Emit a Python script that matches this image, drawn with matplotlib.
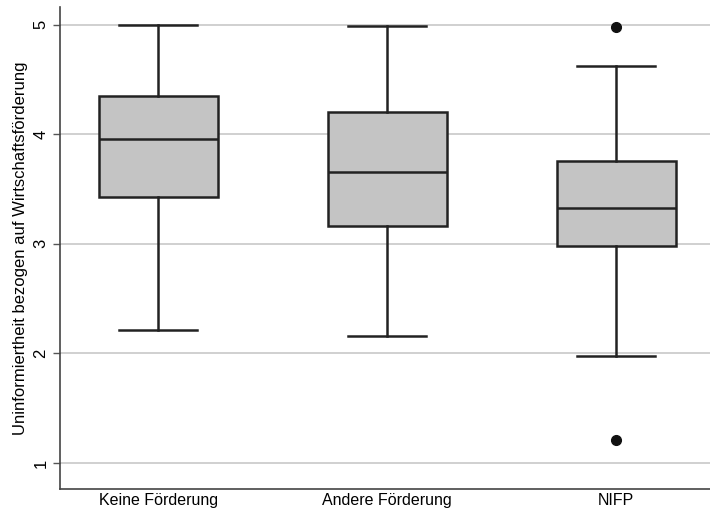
import matplotlib
matplotlib.use('Agg')
import matplotlib.pyplot as plt

plt.rcParams.update({'font.family': ['Liberation Sans', 'DejaVu Sans'], 'font.size': 11})

groups = ['Keine Förderung', 'Andere Förderung', 'NIFP']
whislo = [2.21, 2.16, 1.98]
q1 = [3.43, 3.16, 2.98]
med = [3.96, 3.66, 3.33]
q3 = [4.35, 4.20, 3.76]
whishi = [5.0, 4.99, 4.62]
fliers = [[], [], [4.98, 1.21]]

stats = []
for i, g in enumerate(groups):
    stats.append({'label': g, 'whislo': whislo[i], 'q1': q1[i], 'med': med[i],
                  'q3': q3[i], 'whishi': whishi[i], 'fliers': fliers[i]})

fig = plt.figure(figsize=(7.1, 5.12), dpi=100)
ax = fig.add_axes([0.085, 0.045, 0.915, 0.941])

ax.yaxis.grid(True, color='#c8c8c8', linewidth=1.2)
ax.set_axisbelow(True)

ax.bxp(stats, positions=[1, 2, 3], widths=0.52, patch_artist=True,
       boxprops=dict(facecolor='#c4c4c4', edgecolor='#222222', linewidth=1.8),
       medianprops=dict(color='#222222', linewidth=1.8),
       whiskerprops=dict(color='#222222', linewidth=1.8),
       capprops=dict(color='#222222', linewidth=1.8),
       capwidths=0.34,
       flierprops=dict(marker='o', markerfacecolor='#111111', markeredgecolor='#111111',
                       markersize=7))

ax.set_xlim(0.573, 3.41)
ax.set_ylim(0.763, 5.16)
ax.set_yticks([1, 2, 3, 4, 5])
ax.set_yticklabels(['1', '2', '3', '4', '5'], rotation=90, va='center', fontsize=12)
ax.tick_params(axis='x', length=0, labelsize=11.5, pad=3)
ax.tick_params(axis='y', length=5, width=1, color='#555555')
ax.set_ylabel('Uninformiertheit bezogen auf Wirtschaftsförderung', fontsize=12, labelpad=4)

for s in ['top', 'right']:
    ax.spines[s].set_visible(False)
for s in ['left', 'bottom']:
    ax.spines[s].set_color('#444444')
    ax.spines[s].set_linewidth(1.2)

fig.savefig('out.png', dpi=100)
